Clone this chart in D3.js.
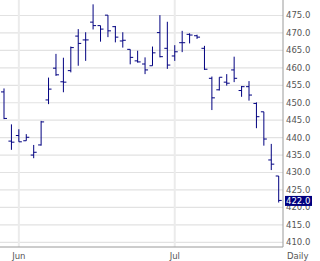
<!DOCTYPE html>
<html>
<head>
  <meta charset="utf-8">
  <script src="https://d3js.org/d3.v7.min.js"></script>
  <style>
    body { margin:0; background:#fff; }
    text { font-family: "DejaVu Sans", Verdana, sans-serif; }
  </style>
</head>
<body>
  <div id="container"></div>
  <script type="text/javascript">

    var w = 320,
        h = 261;

    // daily OHLC
    var dates = ["2008-05-29","2008-05-30",
      "2008-06-02","2008-06-03","2008-06-04","2008-06-05","2008-06-06",
      "2008-06-09","2008-06-10","2008-06-11","2008-06-12","2008-06-13",
      "2008-06-16","2008-06-17","2008-06-18","2008-06-19","2008-06-20",
      "2008-06-23","2008-06-24","2008-06-25","2008-06-26","2008-06-27","2008-06-30",
      "2008-07-01","2008-07-02","2008-07-03","2008-07-07","2008-07-08",
      "2008-07-09","2008-07-10","2008-07-11","2008-07-14","2008-07-15",
      "2008-07-16","2008-07-17","2008-07-18","2008-07-21","2008-07-22"];
    var open  = [453.1, 439.0, 440.6, 439.1, 435.0, 437.9, 450.8, 459.9, 456.0, 459.2, 469.1, 468.0, 473.1, 472.1, 475.1, 471.8, 467.7, 465.3, 462.0, 461.1, 460.6, 470.1, 465.6, 463.4, 467.2, 469.6, 469.2, 465.6, 457.0, 453.7, 455.9, 459.4, 453.5, 454.6, 449.8, 447.4, 433.6, 429.0];
    var high  = [454.1, 443.8, 442.4, 441.0, 437.9, 444.8, 457.2, 464.0, 462.9, 466.1, 471.1, 470.2, 478.2, 472.1, 475.1, 472.0, 470.2, 465.3, 464.9, 463.0, 466.1, 475.1, 473.2, 466.5, 470.6, 469.9, 469.5, 466.3, 457.5, 457.3, 458.2, 463.2, 454.8, 456.2, 450.1, 447.4, 438.2, 429.0];
    var low   = [445.3, 436.5, 438.8, 439.1, 434.1, 437.7, 449.6, 457.7, 453.0, 458.7, 460.6, 462.0, 471.0, 467.5, 468.8, 467.3, 465.8, 461.0, 461.5, 458.2, 460.6, 463.0, 459.7, 462.0, 464.5, 467.0, 468.3, 459.4, 447.9, 453.5, 454.9, 455.9, 451.7, 450.6, 442.7, 437.7, 430.7, 421.4];
    var close = [445.5, 438.7, 438.8, 440.1, 435.8, 444.5, 453.9, 458.0, 455.9, 465.8, 467.0, 468.0, 472.1, 471.1, 470.6, 468.8, 467.9, 463.0, 461.7, 459.4, 464.3, 463.2, 460.8, 464.6, 467.2, 469.4, 468.8, 459.6, 451.4, 457.3, 455.6, 457.0, 454.6, 452.2, 446.0, 439.6, 432.4, 422.0];

    var yTicks = d3.range(410, 476, 5);
    var monthStarts = ["2008-06-02", "2008-07-01"];
    var periodLabel = "Daily";

    var plotRight = 283,
        plotBottom = 247;

    var svg = d3.select("#container").append("svg")
        .attr("width", w)
        .attr("height", h);

    var x = d3.scalePoint().domain(dates).range([4, 278.7]);
    var y = d3.scaleLinear().domain([410, 475]).range([242.3, 15.5]);
    var parse = d3.timeParse("%Y-%m-%d");
    var fmtMonth = d3.timeFormat("%b");

    // horizontal grid
    svg.append("g")
      .selectAll("line")
      .data(yTicks)
      .enter().append("line")
        .attr("x1", 0)
        .attr("x2", plotRight)
        .attr("y1", function(d) { return y(d); })
        .attr("y2", function(d) { return y(d); })
        .style("stroke", "#e2e2e2")
        .style("stroke-width", 1.2);

    // month grid
    svg.append("g")
      .selectAll("line")
      .data(monthStarts)
      .enter().append("line")
        .attr("x1", function(d) { return x(d); })
        .attr("x2", function(d) { return x(d); })
        .attr("y1", 0)
        .attr("y2", plotBottom)
        .style("stroke", "#ebebeb")
        .style("stroke-width", 2);

    // bars
    var bars = svg.append("g")
      .selectAll("g")
      .data(dates)
      .enter().append("g")
        .style("stroke", "#000080")
        .style("stroke-width", 1);

    bars.append("line")
      .attr("x1", function(d) { return x(d); })
      .attr("x2", function(d) { return x(d); })
      .attr("y1", function(d, i) { return y(high[i]); })
      .attr("y2", function(d, i) { return y(low[i]); });
    bars.append("line")
      .attr("x1", function(d) { return x(d) - 3; })
      .attr("x2", function(d) { return x(d); })
      .attr("y1", function(d, i) { return y(open[i]); })
      .attr("y2", function(d, i) { return y(open[i]); });
    bars.append("line")
      .attr("x1", function(d) { return x(d); })
      .attr("x2", function(d) { return x(d) + 3; })
      .attr("y1", function(d, i) { return y(close[i]); })
      .attr("y2", function(d, i) { return y(close[i]); });

    // axis frame
    svg.append("line")
      .attr("x1", plotRight).attr("x2", plotRight)
      .attr("y1", 0).attr("y2", plotBottom)
      .style("stroke", "#9a9a9a");
    svg.append("line")
      .attr("x1", 0).attr("x2", plotRight)
      .attr("y1", plotBottom).attr("y2", plotBottom)
      .style("stroke", "#9a9a9a");

    // y labels
    svg.append("g")
      .selectAll("text")
      .data(yTicks)
      .enter().append("text")
        .attr("x", plotRight + 3)
        .attr("y", function(d) { return y(d); })
        .attr("dy", "0.35em")
        .style("font-size", "8.5px")
        .style("fill", "#555")
        .text(function(d) { return d3.format(".1f")(d); });

    // month labels
    svg.append("g")
      .selectAll("text")
      .data(monthStarts)
      .enter().append("text")
        .attr("x", function(d) { return x(d); })
        .attr("y", 259)
        .attr("text-anchor", "middle")
        .style("font-size", "8.5px")
        .style("fill", "#555")
        .text(function(d) { return fmtMonth(parse(d)); });

    svg.append("text")
      .attr("x", plotRight + 4)
      .attr("y", 259)
      .style("font-size", "8.5px")
      .style("fill", "#555")
      .text(periodLabel);

    // last price flag (covers part of the 420.0 label, as in the original)
    var last = close[close.length - 1];
    svg.append("rect")
      .attr("x", plotRight + 2)
      .attr("y", y(last) - 4.5)
      .attr("width", 27)
      .attr("height", 10)
      .style("fill", "#000080");
    svg.append("text")
      .attr("x", plotRight + 3)
      .attr("y", y(last) + 0.5)
      .attr("dy", "0.35em")
      .style("font-size", "8.5px")
      .style("fill", "#fff")
      .text(d3.format(".1f")(last));

  </script>
</body>
</html>
